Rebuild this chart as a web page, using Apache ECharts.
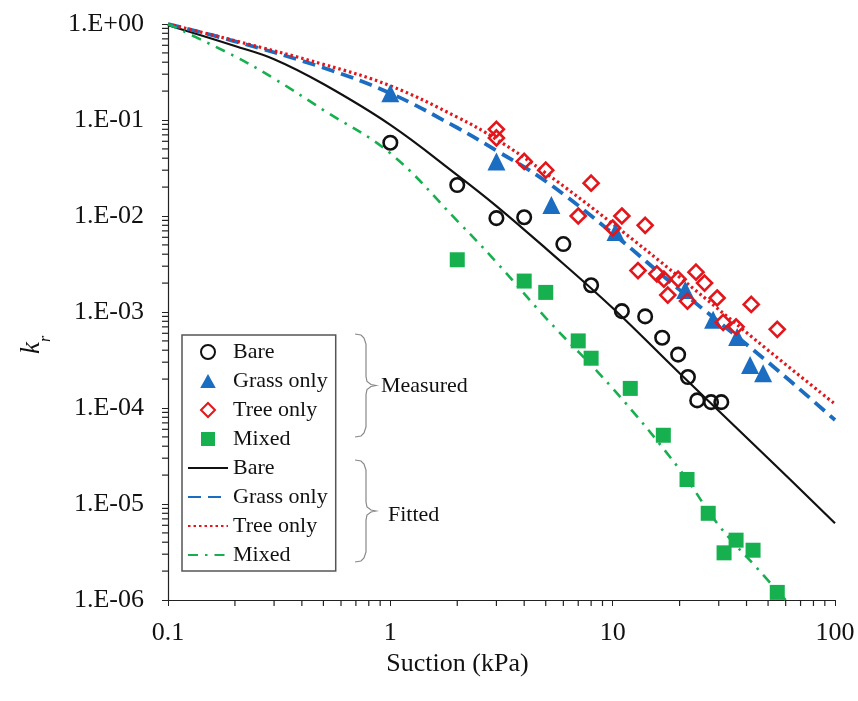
<!DOCTYPE html>
<html>
<head>
<meta charset="utf-8">
<script src="https://cdn.jsdelivr.net/npm/echarts@6/dist/echarts.min.js"></script>
<style>
  html, body { margin: 0; padding: 0; background: #fff; }
  #chart { width: 858px; height: 701px; }
</style>
</head>
<body>
<div id="chart"></div>
<script>
  // measured points (suction kPa, kr)
  var bareX = [1, 2, 3, 4, 6, 8, 11, 14, 16.7, 19.7, 21.8, 24, 27.7, 30.8]
  var bareY = [0.058, 0.021, 0.0095, 0.0097, 0.0051, 0.0019, 0.00102, 0.0009, 0.00054, 0.00036, 0.00021, 0.00012, 0.000115, 0.000115]

  var grassX = [1, 3, 5.3, 10.3, 21.2, 28.3, 36.3, 41.5, 47.5]
  var grassY = [0.19, 0.037, 0.013, 0.0068, 0.0017, 0.00083, 0.00055, 0.00028, 0.00023]

  var treeX = [3, 3, 4, 5, 7, 8, 10, 11, 13, 14, 15.8, 17, 17.7, 19.7, 21.7, 23.7, 25.9, 29.5, 31.4, 35.9, 42, 55]
  var treeY = [0.08, 0.065, 0.037, 0.03, 0.01, 0.022, 0.0075, 0.01, 0.0027, 0.008, 0.0025, 0.0022, 0.0015, 0.0022, 0.0013, 0.0026, 0.002, 0.0014, 0.00078, 0.0007, 0.0012, 0.00066]

  var mixedX = [2, 4, 5, 7, 8, 12, 16.9, 21.6, 26.9, 31.7, 35.9, 42.8, 55]
  var mixedY = [0.0035, 0.0021, 0.0016, 0.0005, 0.00033, 0.00016, 5.2e-5, 1.8e-5, 8e-6, 3.1e-6, 4.2e-6, 3.3e-6, 1.2e-6]

  // fitted curves
  var fitBareX = [0.1, 0.2, 0.3, 0.5, 1, 2, 3, 5, 10, 20, 50, 100]
  var fitBareY = [0.97, 0.59, 0.43, 0.237, 0.089, 0.0267, 0.0127, 0.0046, 0.0011, 0.00023, 3.0e-5, 6.3e-6]

  var fitGrassX = [0.1, 0.2, 0.5, 1, 2, 3, 5, 10, 20, 50, 100]
  var fitGrassY = [1.0, 0.66, 0.35, 0.19, 0.083, 0.048, 0.023, 0.0066, 0.0017, 0.0003, 7.5e-5]

  var fitTreeX = [0.1, 0.2, 0.5, 1, 2, 3, 5, 10, 20, 50, 100]
  var fitTreeY = [1.0, 0.67, 0.38, 0.227, 0.107, 0.063, 0.028, 0.0083, 0.0023, 0.0004, 0.00011]

  var fitMixedX = [0.1, 0.2, 0.3, 0.5, 1, 2, 3, 5, 10, 20, 30, 45, 60]
  var fitMixedY = [1.0, 0.46, 0.27, 0.127, 0.045, 0.0089, 0.0033, 0.00087, 0.00016, 2.3e-5, 6e-6, 2.1e-6, 1e-6]

  // minor tick positions for the log axes
  var tickSteps = [2, 3, 4, 5, 6, 7, 8, 9]
  var xDecades = [0.1, 1, 10]
  var yDecades = [1e-6, 1e-5, 1e-4, 1e-3, 1e-2, 1e-1]

  var serif = "'Liberation Serif', 'Times New Roman', serif"
  var black = '#111111'
  var blue = '#1b6dc1'
  var red = '#e3161c'
  var green = '#17b04f'

  function pairs(xs, ys) {
    return xs.map(function (x, i) { return [x, ys[i]] })
  }

  function minorTicks(decades) {
    var out = []
    decades.forEach(function (d) {
      tickSteps.forEach(function (s) { out.push(d * s) })
    })
    return out
  }

  function expLabel(v) {
    var e = Math.round(Math.log10(v))
    var s = String(Math.abs(e))
    if (s.length < 2) s = '0' + s
    return '1.E' + (e < 0 ? '-' : '+') + s
  }

  // curly bracket "}" drawn as a polyline, top at y0, bottom at y1
  function bracket(x, y0, y1) {
    var m = (y0 + y1) / 2
    return [
      [x, y0], [x + 6, y0 + 1], [x + 9, y0 + 4], [x + 11, y0 + 10],
      [x + 11, m - 9], [x + 12, m - 4], [x + 16, m - 1], [x + 21, m],
      [x + 16, m + 1], [x + 12, m + 4], [x + 11, m + 9],
      [x + 11, y1 - 10], [x + 9, y1 - 4], [x + 6, y1 - 1], [x, y1]
    ]
  }

  // fitted lines: show only the line in the legend, no dot
  var lineOnly = { opacity: 0 }

  var chart = echarts.init(document.getElementById('chart'))

  chart.setOption({
    animation: false,
    backgroundColor: '#fff',
    grid: { left: 168, right: 23, top: 24, bottom: 101 },
    legend: {
      orient: 'vertical',
      left: 182,
      top: 335,
      padding: [6, 8, 5, 5],
      itemWidth: 40,
      itemHeight: 14,
      itemGap: 7,
      symbolKeepAspect: true,
      borderColor: '#555',
      borderWidth: 1.5,
      textStyle: { fontFamily: serif, fontSize: 22, color: black, lineHeight: 21 },
      formatter: function (name) { return name.replace(' (fitted)', '') },
      data: [
        { name: 'Bare' },
        { name: 'Grass only', icon: 'path://M5,0 L10,9 L0,9 Z' },
        { name: 'Tree only', icon: 'path://M5,0 L10,5 L5,10 L0,5 Z' },
        { name: 'Mixed', icon: 'path://M0,0 L10,0 L10,10 L0,10 Z' },
        { name: 'Bare (fitted)', itemStyle: lineOnly },
        { name: 'Grass only (fitted)', itemStyle: lineOnly },
        { name: 'Tree only (fitted)', itemStyle: lineOnly },
        { name: 'Mixed (fitted)', itemStyle: lineOnly }
      ]
    },
    xAxis: {
      type: 'log',
      logBase: 10,
      min: 0.1,
      max: 100,
      name: 'Suction (kPa)',
      nameLocation: 'middle',
      nameGap: 44,
      nameTextStyle: { fontFamily: serif, fontSize: 26, color: black, padding: [0, 88, 0, 0] },
      axisLine: { lineStyle: { color: '#222', width: 1.2 } },
      axisTick: { length: 6, lineStyle: { color: '#222' } },
      axisLabel: { fontFamily: serif, fontSize: 26, color: black, margin: 20 },
      splitLine: { show: false }
    },
    yAxis: {
      type: 'log',
      logBase: 10,
      min: 1e-6,
      max: 1,
      name: '{k|k}{r|r}',
      nameLocation: 'middle',
      nameGap: 114,
      nameTextStyle: {
        padding: [0, 66, 0, 0],
        rich: {
          k: { fontFamily: serif, fontSize: 27, fontStyle: 'italic', color: black, lineHeight: 27, verticalAlign: 'top' },
          r: { fontFamily: serif, fontSize: 16, fontStyle: 'italic', color: black, lineHeight: 36, verticalAlign: 'bottom' }
        }
      },
      axisLine: { lineStyle: { color: '#222', width: 1.2 } },
      axisTick: { length: 6, lineStyle: { color: '#222' } },
      axisLabel: { fontFamily: serif, fontSize: 26, color: black, margin: 24, formatter: expLabel },
      splitLine: { show: false }
    },
    graphic: [
      {
        type: 'polyline',
        shape: { points: bracket(355, 334, 437) },
        style: { stroke: '#888', fill: null, lineWidth: 1.2 }
      },
      {
        type: 'text', x: 381, y: 386,
        style: { text: 'Measured', font: '22px ' + serif, fill: black, align: 'left', verticalAlign: 'middle' }
      },
      {
        type: 'polyline',
        shape: { points: bracket(355, 460, 562) },
        style: { stroke: '#888', fill: null, lineWidth: 1.2 }
      },
      {
        type: 'text', x: 388, y: 515,
        style: { text: 'Fitted', font: '22px ' + serif, fill: black, align: 'left', verticalAlign: 'middle' }
      }
    ],
    series: [
      {
        name: 'Bare (fitted)', type: 'line', smooth: 0.4, symbol: 'none', z: 2,
        lineStyle: { color: black, width: 2.2 }, itemStyle: { color: black },
        data: pairs(fitBareX, fitBareY)
      },
      {
        name: 'Grass only (fitted)', type: 'line', smooth: 0.4, symbol: 'none', z: 2,
        lineStyle: { color: blue, width: 3.8, type: [13, 7] }, itemStyle: { color: blue },
        data: pairs(fitGrassX, fitGrassY)
      },
      {
        name: 'Tree only (fitted)', type: 'line', smooth: 0.4, symbol: 'none', z: 2,
        lineStyle: { color: red, width: 3.2, type: [2.5, 3] }, itemStyle: { color: red },
        data: pairs(fitTreeX, fitTreeY)
      },
      {
        name: 'Mixed (fitted)', type: 'line', smooth: 0.4, symbol: 'none', z: 2,
        lineStyle: { color: green, width: 2.6, type: [10, 7, 2.5, 7] }, itemStyle: { color: green },
        data: pairs(fitMixedX, fitMixedY)
      },
      {
        name: 'Bare', type: 'scatter', symbol: 'circle', symbolSize: 13.5, z: 3,
        itemStyle: { color: 'rgba(0,0,0,0)', borderColor: black, borderWidth: 2.6, opacity: 1 },
        data: pairs(bareX, bareY)
      },
      {
        name: 'Grass only', type: 'scatter', symbol: 'triangle', symbolSize: 18, z: 3,
        itemStyle: { color: blue, opacity: 1 },
        data: pairs(grassX, grassY)
      },
      {
        name: 'Tree only', type: 'scatter', symbol: 'diamond', symbolSize: 15, z: 3,
        itemStyle: { color: 'rgba(0,0,0,0)', borderColor: red, borderWidth: 2.6, opacity: 1 },
        data: pairs(treeX, treeY)
      },
      {
        name: 'Mixed', type: 'scatter', symbol: 'rect', symbolSize: 15, z: 3,
        itemStyle: { color: green, opacity: 1 },
        data: pairs(mixedX, mixedY)
      },
      {
        name: 'xMinorTicks', type: 'scatter', silent: true, clip: false, z: 4,
        symbol: 'rect', symbolSize: [1.2, 6], symbolOffset: [0, 3],
        itemStyle: { color: '#222', opacity: 1 },
        data: minorTicks(xDecades).map(function (v) { return [v, 1e-6] })
      },
      {
        name: 'yMinorTicks', type: 'scatter', silent: true, clip: false, z: 4,
        symbol: 'rect', symbolSize: [6, 1.2], symbolOffset: [-3, 0],
        itemStyle: { color: '#222', opacity: 1 },
        data: minorTicks(yDecades).map(function (v) { return [0.1, v] })
      }
    ]
  })
</script>
</body>
</html>
